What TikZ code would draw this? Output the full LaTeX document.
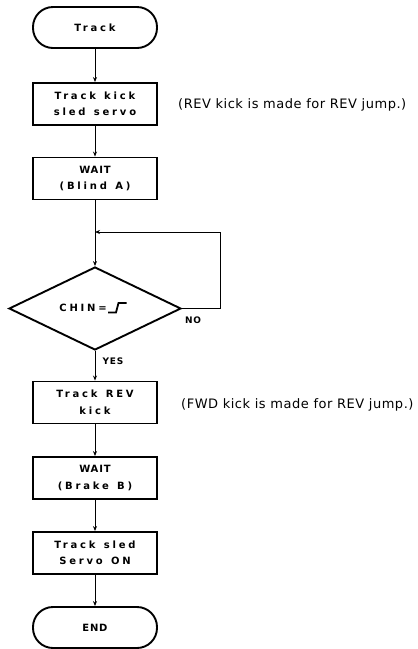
\documentclass[tikz,border=0pt]{standalone}
\usepackage{fontspec}
\setmainfont{DejaVu Sans}
\newfontfamily\widefont{DejaVu Sans Bold}[LetterSpace=28]
\newfontfamily\narrowfont{DejaVu Sans Bold}[LetterSpace=8]
\newfontfamily\notefont{DejaVu Sans}[LetterSpace=4]
\usetikzlibrary{shapes.geometric,arrows.meta}
\begin{document}
\begin{tikzpicture}[x=1pt,y=-1pt,
  stepbox/.style={draw,line width=1.9pt,minimum width=124pt,minimum height=42pt,inner sep=0pt,align=center,font=\fontsize{10}{16.5}\widefont},
  term/.style={draw,line width=1.9pt,rounded corners=20pt,minimum width=124pt,minimum height=41pt,inner sep=0pt,font=\fontsize{10}{16.5}\widefont},
  decide/.style={draw,diamond,line width=1.9pt,aspect=2.07,minimum width=172pt,minimum height=83pt,inner sep=0pt},
  conn/.style={line width=0.8pt},
  arr/.style={conn,-{Stealth[length=5pt,width=4pt]}},
  note/.style={anchor=west,inner sep=0pt,font=\fontsize{13}{16}\notefont},
  lab/.style={inner sep=0pt,font=\fontsize{9}{12}\narrowfont}]
\useasboundingbox (0,0) rectangle (418,649);
\node[term] (start) at (95,27.5) {Track};
\node[stepbox] (b1) at (95,104) {Track\hspace{2pt} kick\\sled\hspace{2pt} servo};
\node[stepbox] (b2) at (95,178.5) {{\narrowfont WAIT}\\(Blind\hspace{2pt} A)};
\coordinate (junc) at (95,232);
\node[decide] (dia) at (95,308.5) {};
\node[inner sep=0pt,font=\fontsize{10}{12}\widefont,anchor=east] (chin) at (107,308) {CHIN=};
\draw[line width=1.8pt] ([xshift=1pt,yshift=-4.5pt]chin.east) -- ++(8,0) -- ++(2.5,-9.5) -- ++(8,0);
\coordinate (loopc) at (220,232);
\node[stepbox] (b3) at (95,402.5) {Track\hspace{2pt} REV\\kick};
\node[stepbox] (b4) at (95,478) {{\narrowfont WAIT}\\(Brake\hspace{2pt} B)};
\node[stepbox] (b5) at (95,553) {Track\hspace{2pt} sled\\Servo\hspace{2pt} ON};
\node[term] (end) at (95,627.5) {\narrowfont END};
\node[note] (n1) at (178,105) {(REV kick is made for REV jump.)};
\node[note] (n2) at (181,405) {(FWD kick is made for REV jump.)};
\node[lab] (no) at (193,320) {NO};
\node[lab] (yes) at (113,361.5) {YES};
\draw[arr] (start) -- (b1);
\draw[arr] (b1) -- (b2);
\draw[arr] (b2) -- (dia);
\draw[arr] (dia.east) -| (loopc) -- (junc);
\draw[arr] (dia) -- (b3);
\draw[arr] (b3) -- (b4);
\draw[arr] (b4) -- (b5);
\draw[arr] (b5) -- (end);
\end{tikzpicture}
\end{document}
